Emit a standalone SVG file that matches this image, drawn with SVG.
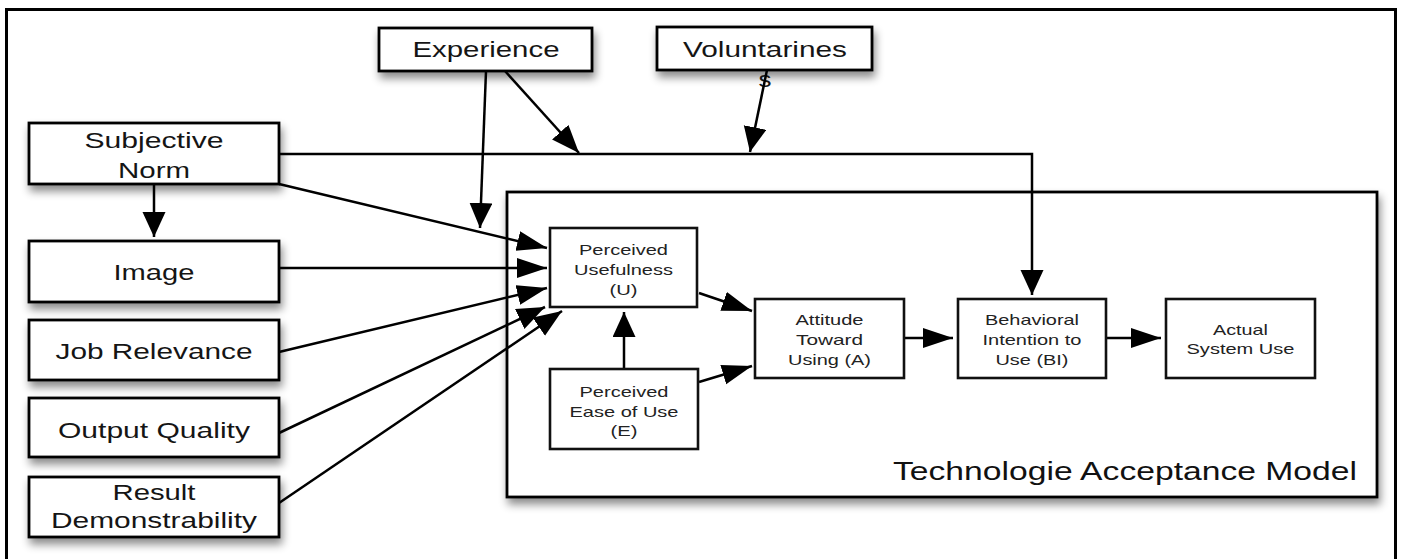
<svg xmlns="http://www.w3.org/2000/svg" width="1404" height="559" viewBox="0 0 1404 559">
<style>
  .box{fill:#fff;stroke:#000;stroke-width:2.8}
  .ibox{fill:#fff;stroke:#111;stroke-width:2.6}
  .t{font-family:"Liberation Sans",Arial,sans-serif;font-size:22px;fill:#151515;text-anchor:middle}
  .s{font-family:"Liberation Sans",Arial,sans-serif;font-size:15px;fill:#222;text-anchor:middle}
  .big{font-family:"Liberation Sans",Arial,sans-serif;font-size:25px;fill:#111;text-anchor:middle}
  .c{fill:none;stroke:#000;stroke-width:2.5}
  .ch{marker-end:url(#ah)}
  .cv{marker-end:url(#av)}
  .cd{marker-end:url(#ad)}
</style>
<defs>
  <filter id="sh" x="-10%" y="-20%" width="130%" height="160%">
    <feDropShadow dx="2" dy="6" stdDeviation="4" flood-color="#000" flood-opacity="0.45"/>
  </filter>
  <marker id="ah" markerUnits="userSpaceOnUse" markerWidth="31" markerHeight="21" refX="30" refY="10" orient="auto">
    <path d="M0,0 L30,10 L0,20 z" fill="#000"/>
  </marker>
  <marker id="av" markerUnits="userSpaceOnUse" markerWidth="26" markerHeight="24" refX="25" refY="11.5" orient="auto">
    <path d="M0,0 L25,11.5 L0,23 z" fill="#000"/>
  </marker>
  <marker id="ad" markerUnits="userSpaceOnUse" markerWidth="29" markerHeight="23" refX="28" refY="11" orient="auto">
    <path d="M0,0 L28,11 L0,22 z" fill="#000"/>
  </marker>
</defs>
<rect x="0" y="0" width="1404" height="559" fill="#fff"/>
<path d="M6.5,562 V9.5 H1395.5 V562" fill="none" stroke="#000" stroke-width="3"/>

<g id="tam">
  <rect class="box" x="507" y="192" width="870" height="305" filter="url(#sh)"/>
  <text class="big" x="1125" y="480" textLength="464" lengthAdjust="spacingAndGlyphs">Technologie Acceptance Model</text>
</g>

<g id="experience">
  <rect class="box" x="379" y="28" width="213" height="43" filter="url(#sh)"/>
  <text class="t" x="486" y="57" textLength="147" lengthAdjust="spacingAndGlyphs">Experience</text>
</g>
<g id="voluntariness">
  <rect class="box" x="657" y="27" width="215" height="43" filter="url(#sh)"/>
  <text class="t" x="765" y="57" textLength="164" lengthAdjust="spacingAndGlyphs">Voluntarines</text>
  <text class="t" x="765" y="87" textLength="13" lengthAdjust="spacingAndGlyphs">s</text>
</g>
<g id="subjective-norm">
  <rect class="box" x="29" y="123" width="250" height="61" filter="url(#sh)"/>
  <text class="t" x="154" y="148" textLength="139" lengthAdjust="spacingAndGlyphs">Subjective</text>
  <text class="t" x="154" y="178" textLength="72" lengthAdjust="spacingAndGlyphs">Norm</text>
</g>
<g id="image">
  <rect class="box" x="29" y="241" width="250" height="61" filter="url(#sh)"/>
  <text class="t" x="154" y="280" textLength="81" lengthAdjust="spacingAndGlyphs">Image</text>
</g>
<g id="job-relevance">
  <rect class="box" x="29" y="320" width="250" height="60" filter="url(#sh)"/>
  <text class="t" x="154" y="359" textLength="197" lengthAdjust="spacingAndGlyphs">Job Relevance</text>
</g>
<g id="output-quality">
  <rect class="box" x="29" y="398" width="250" height="59" filter="url(#sh)"/>
  <text class="t" x="154" y="438" textLength="192" lengthAdjust="spacingAndGlyphs">Output Quality</text>
</g>
<g id="result-demonstrability">
  <rect class="box" x="29" y="477" width="250" height="60" filter="url(#sh)"/>
  <text class="t" x="154" y="500" textLength="83" lengthAdjust="spacingAndGlyphs">Result</text>
  <text class="t" x="154" y="528" textLength="206" lengthAdjust="spacingAndGlyphs">Demonstrability</text>
</g>

<g id="connectors">
  <path class="c cv" d="M486,71 L480,228"/>
  <path class="c cd" d="M505,71 L579,153"/>
  <path class="c cv" d="M767,70 L750,152"/>
  <path class="c cv" d="M279,154 H1032 V295"/>
  <path class="c cv" d="M154,184 V237"/>
  <path class="c ch" d="M279,184 L547,248"/>
  <path class="c ch" d="M279,268 L547,268"/>
  <path class="c ch" d="M279,352 L547,288"/>
  <path class="c cd" d="M279,433 L545,307"/>
  <path class="c cd" d="M279,503 L562,311"/>
  <path class="c cv" d="M624,369 V312"/>
  <path class="c ch" d="M699,293 L752,311"/>
  <path class="c ch" d="M699,382 L752,366"/>
  <path class="c ch" d="M904,338 H953"/>
  <path class="c ch" d="M1106,338 H1161"/>
</g>

<g id="perceived-usefulness">
  <rect class="ibox" x="550" y="228" width="147" height="79"/>
  <text class="s" x="623.5" y="255" textLength="89" lengthAdjust="spacingAndGlyphs">Perceived</text>
  <text class="s" x="623.5" y="275" textLength="99" lengthAdjust="spacingAndGlyphs">Usefulness</text>
  <text class="s" x="623.5" y="295" textLength="28" lengthAdjust="spacingAndGlyphs">(U)</text>
</g>
<g id="perceived-ease-of-use">
  <rect class="ibox" x="550" y="369" width="148" height="80"/>
  <text class="s" x="624" y="397" textLength="89" lengthAdjust="spacingAndGlyphs">Perceived</text>
  <text class="s" x="624" y="416.5" textLength="109" lengthAdjust="spacingAndGlyphs">Ease of Use</text>
  <text class="s" x="624" y="436" textLength="27" lengthAdjust="spacingAndGlyphs">(E)</text>
</g>
<g id="attitude">
  <rect class="ibox" x="755" y="299" width="149" height="79"/>
  <text class="s" x="829.5" y="325" textLength="68" lengthAdjust="spacingAndGlyphs">Attitude</text>
  <text class="s" x="829.5" y="345" textLength="67" lengthAdjust="spacingAndGlyphs">Toward</text>
  <text class="s" x="829.5" y="365" textLength="83" lengthAdjust="spacingAndGlyphs">Using (A)</text>
</g>
<g id="behavioral-intention">
  <rect class="ibox" x="958" y="299" width="148" height="79"/>
  <text class="s" x="1032" y="325" textLength="94" lengthAdjust="spacingAndGlyphs">Behavioral</text>
  <text class="s" x="1032" y="345" textLength="99" lengthAdjust="spacingAndGlyphs">Intention to</text>
  <text class="s" x="1032" y="365" textLength="73" lengthAdjust="spacingAndGlyphs">Use (BI)</text>
</g>
<g id="actual-use">
  <rect class="ibox" x="1166" y="299" width="149" height="79"/>
  <text class="s" x="1240.5" y="335" textLength="55" lengthAdjust="spacingAndGlyphs">Actual</text>
  <text class="s" x="1240.5" y="354" textLength="108" lengthAdjust="spacingAndGlyphs">System Use</text>
</g>
</svg>
